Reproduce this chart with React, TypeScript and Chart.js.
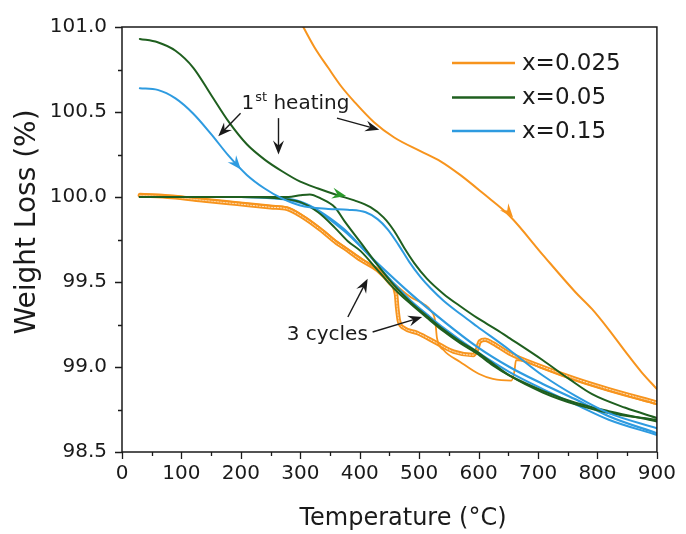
import React, { useEffect, useRef } from 'react';
import { Chart, registerables } from 'chart.js';
Chart.register(...registerables);

const FONT = "'DejaVu Sans', 'Liberation Sans', sans-serif";
const INK = '#1a1a1a';
const ORANGE = '#F7941D';
const GREEN = '#1F5F1F';
const GREEN_ARROW = '#2A9A2A';
const BLUE = '#2E9BE0';

// axis ticks and titles
const xTicksMajor = [0, 100, 200, 300, 400, 500, 600, 700, 800, 900];
const yTicksMajor = [98.5, 99.0, 99.5, 100.0, 100.5, 101.0];
const xTitle = 'Temperature (°C)';
const yTitle = 'Weight Loss (%)';

// legend
const legendNames = ['x=0.025', 'x=0.05', 'x=0.15'];
const legendColors = [ORANGE, GREEN, BLUE];

// 1st heating curves
const tHeatOrange = [305, 324, 347, 369, 391, 424, 458, 502, 536, 569, 608, 652, 708, 763, 791, 819, 847, 874, 900];
const wHeatOrange = [101.0, 100.88, 100.76, 100.65, 100.56, 100.44, 100.35, 100.27, 100.21, 100.13, 100.02, 99.89, 99.66, 99.44, 99.34, 99.22, 99.09, 98.97, 98.87];

const tHeatGreen = [30, 60, 90, 120, 150, 180, 210, 240, 270, 300, 330, 363, 391, 418, 440, 458, 475, 492, 513, 541, 568, 597, 630, 652, 708, 752, 791, 847, 900];
const wHeatGreen = [100.93, 100.91, 100.86, 100.76, 100.6, 100.44, 100.31, 100.22, 100.15, 100.09, 100.05, 100.01, 99.98, 99.94, 99.88, 99.8, 99.7, 99.61, 99.52, 99.43, 99.36, 99.29, 99.22, 99.17, 99.04, 98.93, 98.84, 98.76, 98.7];

const tHeatBlue = [30, 60, 90, 120, 150, 180, 210, 240, 270, 300, 347, 380, 410, 430, 447, 465, 483, 502, 520, 541, 570, 597, 652, 708, 763, 818, 900];
const wHeatBlue = [100.64, 100.63, 100.58, 100.49, 100.37, 100.24, 100.13, 100.05, 99.99, 99.95, 99.93, 99.925, 99.91, 99.87, 99.81, 99.72, 99.62, 99.53, 99.46, 99.39, 99.31, 99.24, 99.1, 98.95, 98.83, 98.73, 98.64];

// cycles
const tCycOrangeA = [30, 83, 138, 194, 250, 278, 305, 333, 361, 374, 402, 430, 452, 461, 463, 466, 474, 497, 530, 558, 591, 597, 602, 611, 624, 652, 708, 763, 818, 900];
const wCycOrangeA = [100.01, 100.0, 99.98, 99.96, 99.94, 99.93, 99.88, 99.81, 99.73, 99.7, 99.63, 99.57, 99.49, 99.43, 99.35, 99.27, 99.23, 99.2, 99.14, 99.09, 99.07, 99.1, 99.15, 99.16, 99.14, 99.08, 99.0, 98.93, 98.87, 98.79];

const tCycOrangeB = [30, 83, 138, 194, 250, 278, 305, 333, 361, 402, 430, 458, 486, 508, 520, 527, 530, 541, 569, 600, 624, 655, 660, 663, 680, 708, 763, 818, 900];
const wCycOrangeB = [100.02, 100.01, 99.99, 99.97, 99.95, 99.94, 99.89, 99.82, 99.74, 99.64, 99.57, 99.49, 99.41, 99.37, 99.33, 99.27, 99.17, 99.1, 99.03, 98.96, 98.93, 98.92, 98.97, 99.04, 99.03, 98.99, 98.92, 98.86, 98.78];

const tCycGreenA = [30, 100, 200, 280, 300, 316, 335, 358, 374, 402, 430, 458, 486, 513, 541, 569, 597, 624, 652, 708, 763, 819, 900];
const wCycGreenA = [100.0, 100.0, 100.0, 100.0, 100.01, 100.015, 99.99, 99.94, 99.86, 99.73, 99.6, 99.48, 99.38, 99.3, 99.22, 99.15, 99.09, 99.02, 98.95, 98.85, 98.78, 98.73, 98.69];

const tCycGreenB = [30, 100, 200, 270, 300, 330, 358, 380, 402, 430, 458, 486, 513, 541, 569, 597, 624, 652, 708, 763, 819, 900];
const wCycGreenB = [100.0, 100.0, 100.0, 99.99, 99.97, 99.91, 99.82, 99.74, 99.68, 99.57, 99.46, 99.37, 99.29, 99.21, 99.14, 99.08, 99.01, 98.95, 98.86, 98.79, 98.74, 98.68];

const tCycBlueA = [30, 100, 200, 263, 285, 319, 374, 430, 486, 541, 597, 652, 708, 763, 819, 900];
const wCycBlueA = [100.0, 100.0, 100.0, 99.99, 99.98, 99.94, 99.8, 99.61, 99.43, 99.27, 99.12, 99.0, 98.9, 98.81, 98.71, 98.61];

const tCycBlueB = [30, 100, 200, 280, 310, 340, 374, 402, 430, 458, 486, 513, 541, 597, 652, 708, 763, 819, 900];
const wCycBlueB = [100.0, 100.0, 100.0, 99.99, 99.96, 99.9, 99.81, 99.71, 99.6, 99.49, 99.39, 99.31, 99.23, 99.09, 98.97, 98.87, 98.78, 98.69, 98.6];

// annotations (data coordinates)
const heatingLabel = { t: 201, w: 100.52 };
const cyclesLabel = { t: 277, w: 99.158 };
const blackArrows = [
  { t0: 199.5, w0: 100.493, t1: 162, w1: 100.357 },
  { t0: 263.3, w0: 100.464, t1: 263.3, w1: 100.25 },
  { t0: 361.7, w0: 100.464, t1: 432.8, w1: 100.396 },
  { t0: 380, w0: 99.294, t1: 413.3, w1: 99.519 },
  { t0: 421.7, w0: 99.206, t1: 505, w1: 99.294 },
];
const curveArrows = [
  { t: 200, w: 100.162, ang: 50, color: BLUE },
  { t: 377, w: 100.006, ang: 12, color: GREEN_ARROW },
  { t: 658, w: 99.88, ang: 50, color: ORANGE },
];

const pts = (t: number[], w: number[]) => t.map((v, i) => ({ x: v, y: w[i] }));

function head(ctx: CanvasRenderingContext2D, x: number, y: number, ang: number, len: number, wid: number, color: string) {
  const dx = Math.cos(ang), dy = Math.sin(ang);
  const nx = -dy, ny = dx;
  ctx.beginPath();
  ctx.moveTo(x, y);
  ctx.lineTo(x - len * dx + (wid / 2) * nx, y - len * dy + (wid / 2) * ny);
  ctx.lineTo(x - 0.65 * len * dx, y - 0.65 * len * dy);
  ctx.lineTo(x - len * dx - (wid / 2) * nx, y - len * dy - (wid / 2) * ny);
  ctx.closePath();
  ctx.fillStyle = color;
  ctx.fill();
}

const decor = {
  id: 'decor',
  afterDraw(chart: any) {
    const { ctx, chartArea: ca, scales } = chart;
    const xs = scales.x, ys = scales.y;
    const px = (t: number) => xs.getPixelForValue(t);
    const py = (w: number) => ys.getPixelForValue(w);
    ctx.save();
    // frame
    ctx.strokeStyle = INK;
    ctx.lineWidth = 1.5;
    ctx.strokeRect(ca.left, ca.top, ca.right - ca.left, ca.bottom - ca.top);
    // tick marks
    ctx.lineWidth = 1.3;
    ctx.beginPath();
    for (let i = 0; i < xTicksMajor.length; i++) {
      const v = xTicksMajor[i];
      const X = Math.round(px(v)) + 0.5;
      ctx.moveTo(X, ca.bottom);
      ctx.lineTo(X, ca.bottom + 7);
      if (i < xTicksMajor.length - 1) {
        const m = Math.round(px((v + xTicksMajor[i + 1]) / 2)) + 0.5;
        ctx.moveTo(m, ca.bottom);
        ctx.lineTo(m, ca.bottom + 4);
      }
    }
    for (let i = 0; i < yTicksMajor.length; i++) {
      const v = yTicksMajor[i];
      const Y = Math.round(py(v)) + 0.5;
      ctx.moveTo(ca.left, Y);
      ctx.lineTo(ca.left - 7, Y);
      if (i < yTicksMajor.length - 1) {
        const m = Math.round(py((v + yTicksMajor[i + 1]) / 2)) + 0.5;
        ctx.moveTo(ca.left, m);
        ctx.lineTo(ca.left - 4, m);
      }
    }
    ctx.stroke();

    // axis titles
    ctx.fillStyle = INK;
    ctx.textAlign = 'center';
    ctx.textBaseline = 'middle';
    ctx.font = `24px ${FONT}`;
    ctx.fillText(xTitle, 403, 519);
    ctx.save();
    ctx.translate(28, 222);
    ctx.rotate(-Math.PI / 2);
    ctx.font = `28px ${FONT}`;
    ctx.fillText(yTitle, 0, 0);
    ctx.restore();

    // legend
    ctx.textBaseline = 'middle';
    ctx.textAlign = 'left';
    ctx.font = `23px ${FONT}`;
    const ly = [63, 97.5, 131];
    for (let i = 0; i < legendNames.length; i++) {
      ctx.strokeStyle = legendColors[i];
      ctx.lineWidth = 2.5;
      ctx.beginPath();
      ctx.moveTo(452, ly[i]);
      ctx.lineTo(515, ly[i]);
      ctx.stroke();
      ctx.fillStyle = INK;
      ctx.fillText(legendNames[i], 522, ly[i] + 1);
    }

    // curve arrowheads
    for (const a of curveArrows) {
      head(ctx, px(a.t), py(a.w), (a.ang * Math.PI) / 180, 14, 11, a.color);
    }

    // black arrows
    ctx.strokeStyle = INK;
    ctx.lineWidth = 1.4;
    for (const a of blackArrows) {
      const x0 = px(a.t0), y0 = py(a.w0), x1 = px(a.t1), y1 = py(a.w1);
      const ang = Math.atan2(y1 - y0, x1 - x0);
      ctx.beginPath();
      ctx.moveTo(x0, y0);
      ctx.lineTo(x1 - 8 * Math.cos(ang), y1 - 8 * Math.sin(ang));
      ctx.stroke();
      head(ctx, x1, y1, ang, 14, 11, INK);
    }

    // texts
    ctx.fillStyle = INK;
    ctx.textBaseline = 'alphabetic';
    let hx = px(heatingLabel.t);
    const hy = py(heatingLabel.w);
    ctx.font = `20px ${FONT}`;
    ctx.fillText('1', hx, hy);
    hx += ctx.measureText('1').width + 1;
    ctx.font = `13px ${FONT}`;
    ctx.fillText('st', hx, hy - 8);
    hx += ctx.measureText('st').width;
    ctx.font = `20px ${FONT}`;
    ctx.fillText(' heating', hx, hy);
    ctx.fillText('3 cycles', px(cyclesLabel.t), py(cyclesLabel.w));
    ctx.restore();
  },
};

export default function App() {
  const ref = useRef<HTMLCanvasElement>(null);
  useEffect(() => {
    document.body.style.margin = '0';
    const base = { pointRadius: 0, fill: false, cubicInterpolationMode: 'monotone', borderJoinStyle: 'round', borderCapStyle: 'round' };
    const chart = new Chart(ref.current as HTMLCanvasElement, {
      type: 'line',
      data: {
        datasets: [
          { ...base, label: 'x=0.025 1st heating', data: pts(tHeatOrange, wHeatOrange), borderColor: ORANGE, borderWidth: 2, order: 1 },
          { ...base, label: 'x=0.05 1st heating', data: pts(tHeatGreen, wHeatGreen), borderColor: GREEN, borderWidth: 2, order: 1 },
          { ...base, label: 'x=0.15 1st heating', data: pts(tHeatBlue, wHeatBlue), borderColor: BLUE, borderWidth: 2, order: 1 },
          { ...base, label: 'x=0.05 cycle a', data: pts(tCycGreenA, wCycGreenA), borderColor: GREEN, borderWidth: 2, order: 2 },
          { ...base, label: 'x=0.05 cycle b', data: pts(tCycGreenB, wCycGreenB), borderColor: GREEN, borderWidth: 2, order: 2 },
          { ...base, label: 'x=0.15 cycle a', data: pts(tCycBlueA, wCycBlueA), borderColor: BLUE, borderWidth: 2.2, order: 3 },
          { ...base, label: 'x=0.15 cycle b', data: pts(tCycBlueB, wCycBlueB), borderColor: BLUE, borderWidth: 2, order: 3 },
          { ...base, label: 'x=0.025 cycle b', data: pts(tCycOrangeB, wCycOrangeB), borderColor: ORANGE, borderWidth: 1.8, order: 4 },
          { ...base, label: 'x=0.025 cycle a hatch', data: pts(tCycOrangeA, wCycOrangeA), borderColor: '#FDE3C4', borderWidth: 1, borderDash: [1.5, 1.5], order: 4 },
          { ...base, label: 'x=0.025 cycle a', data: pts(tCycOrangeA, wCycOrangeA), borderColor: ORANGE, borderWidth: 4.5, order: 5 },
        ],
      },
      options: {
        responsive: false,
        animation: false,
        layout: { padding: { left: 0, top: 25, right: 24, bottom: 0 } },
        plugins: { legend: { display: false }, tooltip: { enabled: false } },
        scales: {
          x: {
            type: 'linear',
            min: 0,
            max: 900,
            grid: { display: false, drawTicks: false },
            border: { display: false },
            ticks: { stepSize: 100, color: INK, font: { family: FONT, size: 20 }, padding: 10, maxRotation: 0 },
            title: { display: false },
            afterFit: (s: any) => { s.height = 82; },
          },
          y: {
            type: 'linear',
            min: 98.5,
            max: 101,
            grid: { display: false, drawTicks: false },
            border: { display: false },
            ticks: { stepSize: 0.5, color: INK, font: { family: FONT, size: 20 }, padding: 15, callback: (v: any) => Number(v).toFixed(1) },
            title: { display: false },
            afterFit: (s: any) => { s.width = 122; },
          },
        },
      } as any,
      plugins: [decor],
    });
    return () => chart.destroy();
  }, []);
  return (
    <div style={{ width: 686, height: 534, position: 'relative' }}>
      <canvas ref={ref} width={686} height={534} style={{ display: 'block', width: 686, height: 534 }} />
    </div>
  );
}
